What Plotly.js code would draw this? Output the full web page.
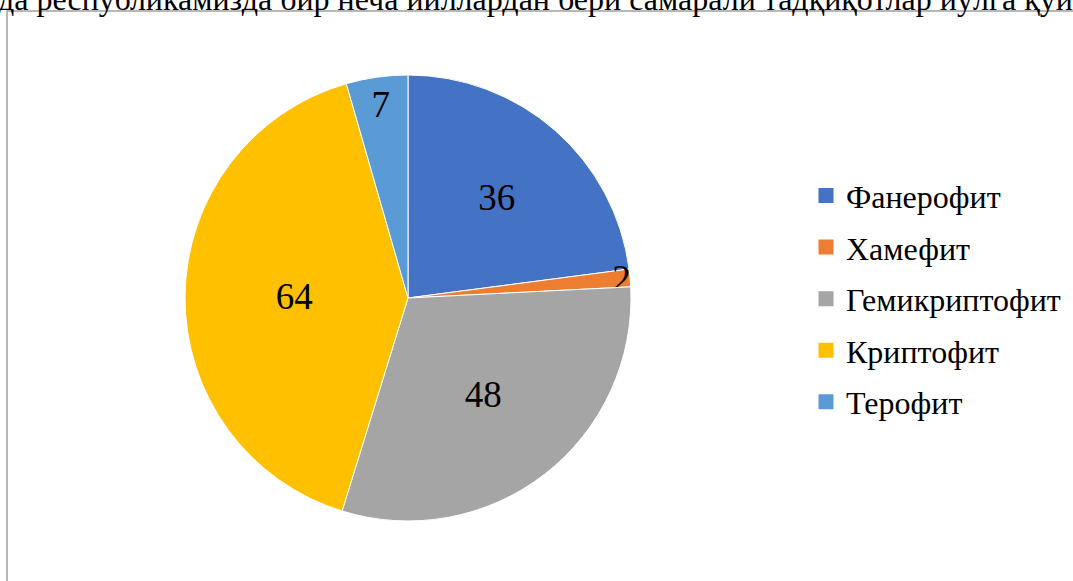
<!DOCTYPE html>
<html>
<head>
<meta charset="utf-8">
<script src="https://cdn.plot.ly/plotly-3.0.1.min.js"></script>
<style>
  html, body { margin: 0; padding: 0; background: #fff; }
  #chart { width: 1073px; height: 581px; }
</style>
</head>
<body>
<div id="chart"></div>
<script>
// life forms and their counts
var labels = ['Фанерофит', 'Хамефит', 'Гемикриптофит', 'Криптофит', 'Терофит'];
var values = [36, 2, 48, 64, 7];
var colors = ['#4472C4', '#ED7D31', '#A5A5A5', '#FFC000', '#5B9BD5'];

var headText = 'да республикамизда бир неча йиллардан бери самарали тадқиқотлар йўлга қўй';
var serif = '"Liberation Serif", "Times New Roman", serif';

var pie = {
  type: 'pie',
  labels: labels,
  values: values,
  sort: false,
  direction: 'clockwise',
  rotation: 0,
  marker: { colors: colors, line: { color: '#ffffff', width: 1 } },
  textinfo: 'value',
  textposition: 'inside',
  insidetextorientation: 'horizontal',
  textfont: { family: serif, size: 37, color: '#000' },
  domain: { x: [0.1724, 0.5881], y: [0.1033, 0.8709] },
  showlegend: false,
  hoverinfo: 'label+value'
};

// legend entries (one group each so the gap can be set)
var legendTraces = labels.map(function (name, i) {
  return {
    type: 'scatter',
    mode: 'markers',
    x: [null],
    y: [null],
    name: name,
    legendgroup: 'g' + i,
    marker: { symbol: 'square', size: 15, color: colors[i] },
    hoverinfo: 'skip'
  };
});

var layout = {
  width: 1073,
  height: 581,
  margin: { l: 0, r: 0, t: 0, b: 0 },
  paper_bgcolor: '#fff',
  plot_bgcolor: '#fff',
  font: { family: serif, color: '#000' },
  xaxis: { visible: false },
  yaxis: { visible: false },
  uniformtext: { mode: 'show', minsize: 37 },
  legend: {
    x: 806 / 1073,
    xanchor: 'left',
    y: 0.486,
    yanchor: 'middle',
    traceorder: 'grouped',
    tracegroupgap: 7,
    font: { family: serif, size: 32, color: '#000' },
    bgcolor: 'rgba(0,0,0,0)'
  },
  shapes: [{
    type: 'rect',
    xref: 'paper', yref: 'paper',
    x0: 7 / 1073, x1: 1.05,
    y0: -0.05, y1: (581 - 11) / 581,
    line: { color: '#a0a0a0', width: 1.5 },
    fillcolor: 'rgba(0,0,0,0)',
    layer: 'below'
  }],
  annotations: [{
    text: headText,
    xref: 'paper', yref: 'paper',
    x: 0, y: 1,
    xanchor: 'left', yanchor: 'bottom',
    xshift: -4, yshift: -19,
    showarrow: false,
    font: { family: serif, size: 32, color: '#000' }
  }]
};

Plotly.newPlot('chart', [pie].concat(legendTraces), layout, { displayModeBar: false });
</script>
</body>
</html>
